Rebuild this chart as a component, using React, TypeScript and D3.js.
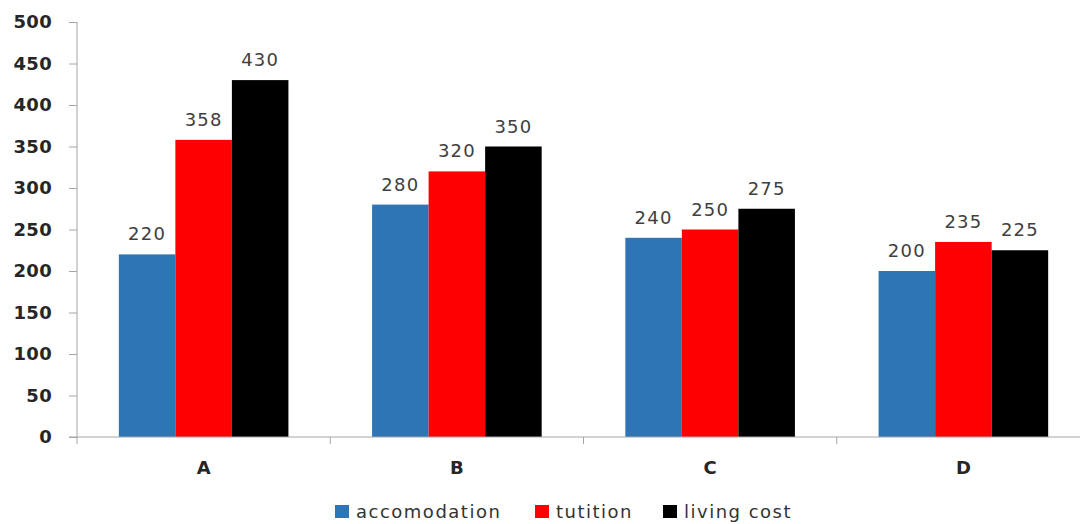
import * as d3 from "d3";
import React, { useEffect, useRef } from "react";

const categories = ["A", "B", "C", "D"];
const seriesNames = ["accomodation", "tutition", "living cost"];
const accomodation = [220, 280, 240, 200];
const tutition = [358, 320, 250, 235];
const livingCost = [430, 350, 275, 225];
const yTicks = [0, 50, 100, 150, 200, 250, 300, 350, 400, 450, 500];

const colors = ["#2e75b6", "#ff0000", "#000000"];

const BarChart: React.FC = () => {
  const ref = useRef<SVGSVGElement>(null);

  useEffect(() => {
    if (!ref.current) return;
    const svg = d3.select(ref.current);
    svg.selectAll("*").remove();

    const font = "'DejaVu Sans', Verdana, sans-serif";
    const values = [accomodation, tutition, livingCost];

    const x = d3.scaleBand().domain(categories).range([77, 1090]);
    const x1 = d3
      .scaleBand()
      .domain(seriesNames)
      .range([0, x.bandwidth()])
      .paddingInner(0)
      .paddingOuter(0.74);
    const y = d3.scaleLinear().domain([0, 500]).range([437, 22]);

    // bars
    const groups = svg
      .append("g")
      .selectAll("g")
      .data(categories)
      .enter()
      .append("g")
      .attr("transform", (d) => `translate(${x(d)},0)`);

    groups
      .selectAll("rect")
      .data((_, i) => seriesNames.map((s, k) => ({ s, k, v: values[k][i] })))
      .enter()
      .append("rect")
      .attr("x", (d) => x1(d.s)!)
      .attr("y", (d) => y(d.v))
      .attr("width", x1.bandwidth())
      .attr("height", (d) => y(0) - y(d.v))
      .attr("fill", (d) => colors[d.k]);

    groups
      .selectAll("text")
      .data((_, i) => seriesNames.map((s, k) => ({ s, k, v: values[k][i] })))
      .enter()
      .append("text")
      .attr("x", (d) => x1(d.s)! + x1.bandwidth() / 2)
      .attr("y", (d) => y(d.v) - 14)
      .attr("text-anchor", "middle")
      .attr("font-family", font)
      .attr("font-size", 18)
      .attr("letter-spacing", 1.2)
      .attr("fill", "#404040")
      .text((d) => d.v);

    // y axis
    const yAxis = svg
      .append("g")
      .attr("transform", "translate(77,0)")
      .call(
        d3
          .axisLeft(y)
          .tickValues(yTicks)
          .tickSize(8)
          .tickPadding(17)
      );
    yAxis.select(".domain").attr("stroke", "#a6a6a6").attr("d", "M0,22V437");
    yAxis.selectAll(".tick line").attr("stroke", "#a6a6a6");
    yAxis
      .selectAll(".tick text")
      .attr("font-family", font)
      .attr("font-size", 18)
      .attr("letter-spacing", 0.3)
      .attr("font-weight", "bold")
      .attr("fill", "#262626");

    // x axis
    const xAxis = svg
      .append("g")
      .attr("transform", "translate(0,437)")
      .call(d3.axisBottom(x).tickSize(0).tickPadding(24));
    xAxis.select(".domain").attr("stroke", "#a6a6a6").attr("d", "M69,0H1080");
    xAxis
      .selectAll(".tick text")
      .attr("font-family", font)
      .attr("font-size", 18)
      .attr("font-weight", "bold")
      .attr("fill", "#262626");

    // category separators
    svg
      .append("g")
      .selectAll("line")
      .data(categories)
      .enter()
      .append("line")
      .attr("x1", (d) => x(d)!)
      .attr("x2", (d) => x(d)!)
      .attr("y1", 437)
      .attr("y2", 444)
      .attr("stroke", "#a6a6a6");

    // legend
    const legendX = [335, 535, 663];
    const legend = svg
      .append("g")
      .selectAll("g")
      .data(seriesNames)
      .enter()
      .append("g")
      .attr("transform", (_, i) => `translate(${legendX[i]},505)`);
    legend
      .append("rect")
      .attr("width", 14)
      .attr("height", 13)
      .attr("fill", (_, i) => colors[i]);
    legend
      .append("text")
      .attr("x", 21)
      .attr("y", 13)
      .attr("font-family", font)
      .attr("font-size", 18)
      .attr("letter-spacing", 1.5)
      .attr("fill", "#333333")
      .text((d) => d);
  }, []);

  return (
    <svg
      ref={ref}
      width={1080}
      height={524}
      style={{ position: "absolute", left: 0, top: 0, background: "#fff" }}
    ></svg>
  );
};

export default function App() {
  return <BarChart />;
}
